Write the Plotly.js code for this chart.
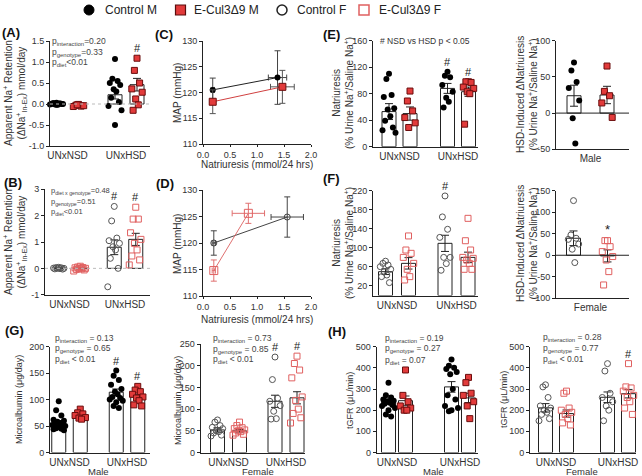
<!DOCTYPE html>
<html><head><meta charset="utf-8">
<script src="https://cdn.plot.ly/plotly-3.0.1.min.js"></script>
<style>html,body{margin:0;padding:0;background:#fff}#chart{width:642px;height:476px}</style>
</head><body><div id="chart"></div>
<script>
// ---------------- DATA ----------------
const cats = ['UNxNSD', 'UNxHSD'];
const legendNames = ['Control M', 'E-Cul3Δ9 M', 'Control F', 'E-Cul3Δ9 F'];

// (A) Apparent Na+ retention, male
const aCtlNSD = [0.03, 0.02, 0.01, 0.0, 0.0, -0.01, -0.02, 0.02, 0.01, -0.01, 0.0, -0.02, 0.01];
const aKoNSD = [-0.01, -0.03, -0.05, -0.06, -0.04, -0.02];
const aCtlHSD = [1.07, 0.6, 0.55, 0.5, 0.45, 0.35, 0.3, 0.15, 0.05, -0.05, -0.15, -0.5];
const aKoHSD = [1.09, 0.8, 0.5, 0.36, 0.28, 0.12, -0.02, -0.15];
const aMean = [0.0, -0.03, 0.22, 0.46];
const aSem = [0.01, 0.01, 0.1, 0.15];
const aSig = ['', '', '', '#'];

// (B) Apparent Na+ retention, female
const bCtlNSD = [0.04, 0.03, 0.02, 0.01, 0.0, 0.0, -0.01, -0.02, -0.03];
const bKoNSD = [0.08, 0.05, 0.03, 0.02, 0.0, -0.01, -0.02, -0.04, -0.06, -0.1];
const bCtlHSD = [2.35, 1.8, 1.15, 1.05, 0.95, 0.82, 0.7, 0.38, 0.0, -0.7];
const bKoHSD = [2.32, 1.87, 1.87, 1.35, 1.1, 0.95, 0.7, 0.47, 0.32, 0.13];
const bMean = [0.01, 0.0, 0.8, 1.1];
const bSem = [0.01, 0.02, 0.28, 0.23];
const bSig = ['', '', '#', '#'];

// (C) MAP vs natriuresis, male
const cCtlX = [0.18, 1.38], cCtlY = [120.5, 122.9], cCtlXe = [0.03, 0.17], cCtlYe = [2.3, 5.2];
const cKoX = [0.18, 1.47], cKoY = [118.2, 121.1], cKoXe = [0.03, 0.22], cKoYe = [2.3, 3.2];
// (D) MAP vs natriuresis, female
const dCtlX = [0.2, 1.56], dCtlY = [120.0, 124.9], dCtlXe = [0.03, 0.3], dCtlYe = [2.3, 3.8];
const dKoX = [0.2, 0.84], dKoY = [114.8, 125.6], dKoXe = [0.03, 0.3], dKoYe = [2.0, 1.9];

// (E) Natriuresis, male
const eCtlNSD = [110, 102, 78, 75, 58, 56, 46, 39, 29, 25, 21];
const eKoNSD = [84, 69, 54, 44, 36, 29];
const eCtlHSD = [113, 107, 105, 93, 83, 74, 68, 59];
const eKoHSD = [98, 98, 97, 90, 88, 83, 80, 34];
const eMean = [53, 50, 88, 83];
const eSem = [12, 10, 7.5, 7];
const eSig = ['', '', '#', '#'];
// (E) HSD-induced delta natriuresis, male
const e2Ctl = [70, 59, 43, 34.5, 17.5, -7, -42];
const e2Ko = [65, 30, 24, 14, -6];
const e2Mean = [24, 25];
const e2Sem = [14.5, 12];

// (F) Natriuresis, female
const fCtlNSD = [72, 67.5, 64, 60.5, 55, 50, 43, 39.6, 27];
const fKoNSD = [125, 95.5, 88.5, 80, 67.5, 55, 39.6, 32.6];
const fCtlHSD = [209, 165, 139, 122, 80, 80, 67, 53];
const fKoHSD = [162, 115, 95.5, 80, 78, 74.5, 67.5, 55, 55];
const fMean = [50, 67.5, 109.5, 80];
const fSem = [6, 12, 17, 11];
const fSig = ['', '', '#', ''];
// (F) HSD-induced delta natriuresis, female
const f2Ctl = [127, 47, 39.5, 37, 26, 14, -17];
const f2Ko = [34, 34, 20, 8.5, -3, -11, -38, -69];
const f2Mean = [39.5, -1.5];
const f2Sem = [17, 14];
const f2Sig = ['', '*'];

// (G) Microalbumin
const gmCtlNSD = [97, 80, 70, 62, 60, 58, 56, 55, 54, 52, 50, 48, 46, 45, 44, 42];
const gmKoNSD = [82, 75, 73, 70, 66, 65, 63];
const gmCtlHSD = [155, 145, 137, 128, 120, 115, 110, 105, 103, 100, 98, 95, 88, 84];
const gmKoHSD = [125, 118, 115, 110, 105, 103, 98, 90, 88];
const gmMean = [56, 70, 114, 105];
const gmSem = [4, 4, 6, 5];
const gmSig = ['', '', '#', '#'];
const gfCtlNSD = [75, 70, 62, 58, 55, 50, 48, 45, 40, 38];
const gfKoNSD = [70, 62, 57, 55, 52, 50, 48, 45, 42, 40];
const gfCtlHSD = [220, 168, 125, 118, 108, 95, 78, 77];
const gfKoHSD = [222, 205, 190, 172, 128, 120, 100, 90, 80, 68];
const gfMean = [52, 50, 118, 126];
const gfSem = [5, 3, 14, 14];
const gfSig = ['', '', '#', '#'];

// (H) tGFR
const hmCtlNSD = [330, 270, 260, 250, 245, 240, 235, 230, 225, 220, 210, 200, 180, 170];
const hmKoNSD = [390, 270, 240, 220, 210, 200, 200];
const hmCtlHSD = [440, 410, 400, 395, 380, 370, 300, 270, 250, 220, 210, 200, 195];
const hmKoHSD = [355, 330, 280, 270, 240, 220, 160];
const hmMean = [242, 245, 310, 258];
const hmSem = [12, 22, 25, 22];
const hfCtlNSD = [320, 310, 260, 220, 210, 200, 190, 180, 160, 150];
const hfKoNSD = [290, 280, 210, 200, 190, 180, 160, 140, 130];
const hfCtlHSD = [420, 385, 280, 260, 240, 220, 200, 150];
const hfKoHSD = [420, 310, 305, 290, 270, 260, 240, 210, 180];
const hfMean = [211, 184, 261, 278];
const hfSem = [20, 17, 25, 20];
const hfSig = ['', '', '', '#'];

// p-value texts
const pA = ['p<sub>interaction</sub>=0.20', 'p<sub>genotype</sub>=0.33', 'p<sub>diet</sub>&lt;0.01'];
const pB = ['p<sub>diet x genotype</sub>=0.48', 'p<sub>genotype</sub>=0.51', 'p<sub>diet</sub>&lt;0.01'];
const pGm = ['p<sub>interaction</sub> = 0.13', 'p<sub>genotype</sub> = 0.65', 'p<sub>diet</sub> &lt; 0.01'];
const pGf = ['p<sub>interaction</sub> = 0.73', 'p<sub>genotype</sub> = 0.85', 'p<sub>diet</sub> &lt; 0.01'];
const pHm = ['p<sub>interaction</sub> = 0.19', 'p<sub>genotype</sub> = 0.27', 'p<sub>diet</sub> = 0.07'];
const pHf = ['p<sub>interaction</sub> = 0.28', 'p<sub>genotype</sub> = 0.77', 'p<sub>diet</sub> &lt; 0.01'];

// ---------------- DRAWING ----------------
const W = 642, H = 476;
const FONT = 'Liberation Sans, Arial, sans-serif';
const traces = [], annotations = [], shapes = [];
const layout = {width: W, height: H, margin: {l: 0, r: 0, t: 0, b: 0}, paper_bgcolor: '#fff', plot_bgcolor: 'rgba(0,0,0,0)',
  showlegend: false, barmode: 'overlay', font: {family: FONT, color: '#333'}};

const ST = {
  ctlM: {symbol: 'circle', color: '#000', size: 6, line: {width: 0}},
  koM: {symbol: 'square', color: '#e23b3b', size: 6, line: {color: '#6b0d0d', width: 1}},
  ctlF: {symbol: 'circle-open', color: '#555', size: 6, line: {width: 1}},
  koF: {symbol: 'square-open', color: '#e06060', size: 6, line: {width: 1}}
};
const JIT = [0, -1, 1, -2, 2, -0.5, 0.5, -1.5, 1.5, -2.5, 2.5];

function ann(x, y, text, o) {
  annotations.push(Object.assign({xref: 'paper', yref: 'paper', x: x / W, y: 1 - y / H, text: text, showarrow: false,
    font: {family: FONT, size: 9, color: '#333'}, xanchor: 'center', yanchor: 'middle'}, o || {}));
}
function axisBase() {
  return {showline: true, linecolor: '#222', linewidth: 1, ticks: 'outside', ticklen: 3, tickwidth: 1, tickcolor: '#222',
    tickfont: {family: FONT, size: 9, color: '#333'}, showgrid: false, zeroline: false, fixedrange: true};
}
function setAxes(n, g) {
  const xa = axisBase(), ya = axisBase();
  const s = n === 1 ? '' : n;
  xa.domain = [g.x0 / W, g.x1 / W];
  ya.domain = [1 - g.bot / H, 1 - g.top / H];
  xa.anchor = 'y' + s; ya.anchor = 'x' + s;
  ya.range = g.yr; ya.tickvals = g.yt; ya.ticktext = g.yt.map(v => g.fmt ? v.toFixed(g.fmt) : String(v));
  layout['xaxis' + s] = xa; layout['yaxis' + s] = ya;
  return {xa, ya, xr: 'x' + s, yr: 'y' + s};
}
function barPanel(n, g, sets, styles, means, sems, sig, catText) {
  const {xa, ya, xr, yr} = setAxes(n, g);
  const s = g.s;
  xa.range = [(g.x0 - g.c0) / s, (g.x1 - g.c0) / s];
  const pos = sets.length === 2 ? [-g.off / s, g.off / s] : [-g.off / s, g.off / s, 1 - g.off / s, 1 + g.off / s];
  xa.tickvals = sets.length === 2 ? [0] : [0, 1];
  xa.ticktext = catText; xa.ticks = '';
  xa.tickfont = {family: FONT, size: 10, color: '#333'};
  pos.forEach((p, i) => {
    traces.push({type: 'bar', x: [p], y: [means[i]], width: g.bw / s, xaxis: xr, yaxis: yr,
      marker: {color: '#fff', line: {color: '#222', width: 1}},
      error_y: {type: 'data', array: [sems[i]], color: '#222', thickness: 1, width: 4}, hoverinfo: 'skip'});
  });
  sets.forEach((arr, i) => {
    const xs = arr.map((v, j) => pos[i] + JIT[j % JIT.length] * 2.6 / s);
    traces.push({type: 'scatter', mode: 'markers', x: xs, y: arr, xaxis: xr, yaxis: yr, marker: styles[i],
      hoverinfo: 'skip', cliponaxis: false});
  });
  (sig || []).forEach((t, i) => {
    if (!t) return;
    const top = Math.max(...sets[i], means[i] + sems[i]);
    annotations.push({xref: xr, yref: yr, x: pos[i], y: top, text: t, showarrow: false, yanchor: 'bottom', yshift: 2,
      font: {family: FONT, size: t === '*' ? 13 : 11, color: '#222'}});
  });
  if (g.zero) shapes.push({type: 'line', xref: xr + ' domain', yref: yr, x0: 0, x1: 1, y0: 0, y1: 0,
    line: {color: g.zero === 'dot' ? '#bbb' : '#222', width: 1, dash: g.zero === 'dot' ? 'dot' : 'solid'}});
}
function linePanel(n, g, series) {
  const {xa, ya, xr, yr} = setAxes(n, g);
  xa.range = [0, 2]; xa.tickvals = [0, 0.5, 1, 1.5, 2]; xa.ticktext = ['0.0', '0.5', '1.0', '1.5', '2.0'];
  xa.ticklen = 2;
  series.forEach(sr => {
    traces.push({type: 'scatter', mode: 'lines+markers', x: sr.x, y: sr.y, xaxis: xr, yaxis: yr,
      line: {color: sr.lc, width: 1}, marker: sr.m,
      error_x: {type: 'data', array: sr.xe, color: sr.ec, thickness: 1, width: 3},
      error_y: {type: 'data', array: sr.ye, color: sr.ec, thickness: 1, width: 3}, hoverinfo: 'skip', cliponaxis: false});
  });
}

// Panels
barPanel(1, {x0: 50, x1: 150, top: 41, bot: 146, c0: 67.5, s: 58.5, off: 11, bw: 14, yr: [-1, 1.5], yt: [-1, -0.5, 0, 0.5, 1, 1.5], fmt: 1, zero: 'dot'},
  [aCtlNSD, aKoNSD, aCtlHSD, aKoHSD], [ST.ctlM, ST.koM, ST.ctlM, ST.koM], aMean, aSem, aSig, cats);
barPanel(2, {x0: 45, x1: 150, top: 189.3, bot: 294.7, c0: 69.5, s: 55.5, off: 10.75, bw: 14, yr: [-1, 3], yt: [-1, 0, 1, 2, 3], zero: 'dot'},
  [bCtlNSD, bKoNSD, bCtlHSD, bKoHSD], [ST.ctlF, ST.koF, ST.ctlF, ST.koF], bMean, bSem, bSig, cats);
linePanel(3, {x0: 203, x1: 311, top: 41, bot: 144, yr: [110, 130], yt: [110, 115, 120, 125, 130]}, [
  {x: cCtlX, y: cCtlY, xe: cCtlXe, ye: cCtlYe, lc: '#222', ec: '#444', m: Object.assign({}, ST.ctlM, {size: 6})},
  {x: cKoX, y: cKoY, xe: cKoXe, ye: cKoYe, lc: '#d04040', ec: '#555', m: Object.assign({}, ST.koM, {size: 7})}]);
linePanel(4, {x0: 203, x1: 311, top: 190, bot: 296, yr: [110, 130], yt: [110, 115, 120, 125, 130]}, [
  {x: dCtlX, y: dCtlY, xe: dCtlXe, ye: dCtlYe, lc: '#444', ec: '#444', m: Object.assign({}, ST.ctlF, {size: 6, color: '#444'})},
  {x: dKoX, y: dKoY, xe: dKoXe, ye: dKoYe, lc: '#e07070', ec: '#e07070', m: Object.assign({}, ST.koF, {size: 8})}]);
barPanel(5, {x0: 373, x1: 478, top: 40.7, bot: 146.7, c0: 399.5, s: 58.5, off: 10.5, bw: 14, yr: [0, 160], yt: [0, 40, 80, 120, 160]},
  [eCtlNSD, eKoNSD, eCtlHSD, eKoHSD], [ST.ctlM, ST.koM, ST.ctlM, ST.koM], eMean, eSem, eSig, cats);
barPanel(6, {x0: 556, x1: 629, top: 40.7, bot: 149.3, c0: 590.5, s: 60, off: 16.5, bw: 14, yr: [-50, 100], yt: [-50, 0, 50, 100], zero: 'solid'},
  [e2Ctl, e2Ko], [ST.ctlM, ST.koM], e2Mean, e2Sem, null, ['Male']);
barPanel(7, {x0: 373, x1: 478, top: 190.7, bot: 295.5, c0: 397, s: 59.5, off: 11.5, bw: 14, yr: [0, 220], yt: [20, 60, 100, 140, 180, 220]},
  [fCtlNSD, fKoNSD, fCtlHSD, fKoHSD], [ST.ctlF, ST.koF, ST.ctlF, ST.koF], fMean, fSem, fSig, cats);
barPanel(8, {x0: 556, x1: 629, top: 190.7, bot: 298.3, c0: 590.5, s: 60, off: 17, bw: 14, yr: [-100, 150], yt: [-100, -50, 0, 50, 100, 150], zero: 'solid'},
  [f2Ctl, f2Ko], [ST.ctlF, ST.koF], f2Mean, f2Sem, f2Sig, ['Female']);
barPanel(9, {x0: 50, x1: 150, top: 346.7, bot: 452.5, c0: 69.5, s: 57.5, off: 10.75, bw: 14, yr: [0, 200], yt: [0, 50, 100, 150, 200]},
  [gmCtlNSD, gmKoNSD, gmCtlHSD, gmKoHSD], [ST.ctlM, ST.koM, ST.ctlM, ST.koM], gmMean, gmSem, gmSig, cats);
barPanel(10, {x0: 200.7, x1: 305, top: 344, bot: 452.5, c0: 228.5, s: 57.5, off: 11, bw: 14, yr: [0, 250], yt: [0, 50, 100, 150, 200, 250]},
  [gfCtlNSD, gfKoNSD, gfCtlHSD, gfKoHSD], [ST.ctlF, ST.koF, ST.ctlF, ST.koF], gfMean, gfSem, gfSig, cats);
barPanel(11, {x0: 376.7, x1: 478, top: 346.7, bot: 452.5, c0: 397, s: 63, off: 8.5, bw: 14, yr: [0, 500], yt: [0, 100, 200, 300, 400, 500]},
  [hmCtlNSD, hmKoNSD, hmCtlHSD, hmKoHSD], [ST.ctlM, ST.koM, ST.ctlM, ST.koM], hmMean, hmSem, null, cats);
barPanel(12, {x0: 530, x1: 636, top: 346.7, bot: 452.5, c0: 556, s: 62, off: 10.5, bw: 14, yr: [0, 500], yt: [0, 100, 200, 300, 400, 500]},
  [hfCtlNSD, hfKoNSD, hfCtlHSD, hfKoHSD], [ST.ctlF, ST.koF, ST.ctlF, ST.koF], hfMean, hfSem, hfSig, cats);

// p-values
function pvals(list, x, ys, sz) { list.forEach((t, i) => ann(x, ys[i], t, {xanchor: 'left', font: {family: FONT, size: sz || 8.5, color: '#444'}})); }
pvals(pA, 50, [41, 52, 63]);
pvals(pB, 49, [191, 202, 212], 7.5);
pvals(pGm, 53, [338, 348.5, 359.5]);
pvals(pGf, 211, [338, 349, 359.5]);
pvals(pHm, 383, [338, 348.5, 360]);
pvals(pHf, 541, [337, 348, 359]);

// axis titles
const T10 = {family: FONT, size: 10, color: '#333'};
const T9 = {family: FONT, size: 9, color: '#333'};
const T95 = {family: FONT, size: 9.5, color: '#333'};
const naTitle = 'Apparent Na<sup>+</sup> Retention<br>(ΔNa<sup>+</sup><sub>In-Ex</sub>) mmol/day';
ann(15, 93, naTitle, {textangle: -90, font: T10});
ann(15, 242, naTitle, {textangle: -90, font: T10});
ann(178, 93, 'MAP (mmHg)', {textangle: -90, font: T10});
ann(178, 244, 'MAP (mmHg)', {textangle: -90, font: T10});
ann(257, 164, 'Natriuresis (mmol/24 hrs)', {font: T10});
ann(257, 319, 'Natriuresis (mmol/24 hrs)', {font: T10});
const natTitle = 'Natriuresis<br>(% Urine Na<sup>+</sup>/Saline Na<sup>+</sup>)';
ann(343, 93, natTitle, {textangle: -90, font: T10});
ann(343, 243, natTitle, {textangle: -90, font: T10});
const dTitle = 'HSD-Induced ΔNatriuresis<br>(% Urine Na<sup>+</sup>/Saline Na<sup>+</sup>)';
ann(527, 95, dTitle, {textangle: -90, font: T10});
ann(527, 244, dTitle, {textangle: -90, font: T10});
ann(19, 400, 'Microalbumin (μg/day)', {textangle: -90, font: T9});
ann(178, 400, 'Microalbumin (μg/day)', {textangle: -90, font: T9});
ann(350, 400, 'tGFR (μL/min)', {textangle: -90, font: T9});
ann(504, 400, 'tGFR (μL/min)', {textangle: -90, font: T9});
ann(98, 471.5, 'Male', {font: T95});
ann(258, 471.5, 'Female', {font: T95});
ann(433, 471.5, 'Male', {font: T95});
ann(582, 471.5, 'Female', {font: T95});
ann(425, 41, '# NSD vs HSD p &lt; 0.05', {font: {family: FONT, size: 8.5, color: '#333'}});

// panel letters
const LF = {family: FONT, size: 13, color: '#111'};
[['(A)', 11, 33], ['(B)', 13, 182], ['(C)', 164, 35], ['(D)', 165, 184], ['(E)', 331, 35], ['(F)', 331, 178], ['(G)', 14, 330], ['(H)', 337, 331]]
  .forEach(([t, x, y]) => ann(x, y, '<b>' + t + '</b>', {font: LF}));

// legend
shapes.push({type: 'circle', xref: 'paper', yref: 'paper', x0: 84 / W, x1: 94 / W, y0: 1 - 15 / H, y1: 1 - 5 / H, fillcolor: '#000', line: {color: '#000', width: 1}});
shapes.push({type: 'rect', xref: 'paper', yref: 'paper', x0: 175.5 / W, x1: 185.5 / W, y0: 1 - 15 / H, y1: 1 - 5 / H, fillcolor: '#e23b3b', line: {color: '#5a0d0d', width: 1.2}});
shapes.push({type: 'circle', xref: 'paper', yref: 'paper', x0: 277 / W, x1: 287 / W, y0: 1 - 15 / H, y1: 1 - 5 / H, fillcolor: 'rgba(0,0,0,0)', line: {color: '#222', width: 1.5}});
shapes.push({type: 'rect', xref: 'paper', yref: 'paper', x0: 359 / W, x1: 369 / W, y0: 1 - 15 / H, y1: 1 - 5 / H, fillcolor: 'rgba(0,0,0,0)', line: {color: '#e06060', width: 1.5}});
const LG = {family: FONT, size: 12, color: '#222'};
[[103, legendNames[0]], [192, legendNames[1]], [295, legendNames[2]], [377, legendNames[3]]]
  .forEach(([x, t]) => ann(x, 10, t, {xanchor: 'left', font: LG}));

layout.annotations = annotations;
layout.shapes = shapes;
Plotly.newPlot('chart', traces, layout, {staticPlot: true, displayModeBar: false});
</script></body></html>
